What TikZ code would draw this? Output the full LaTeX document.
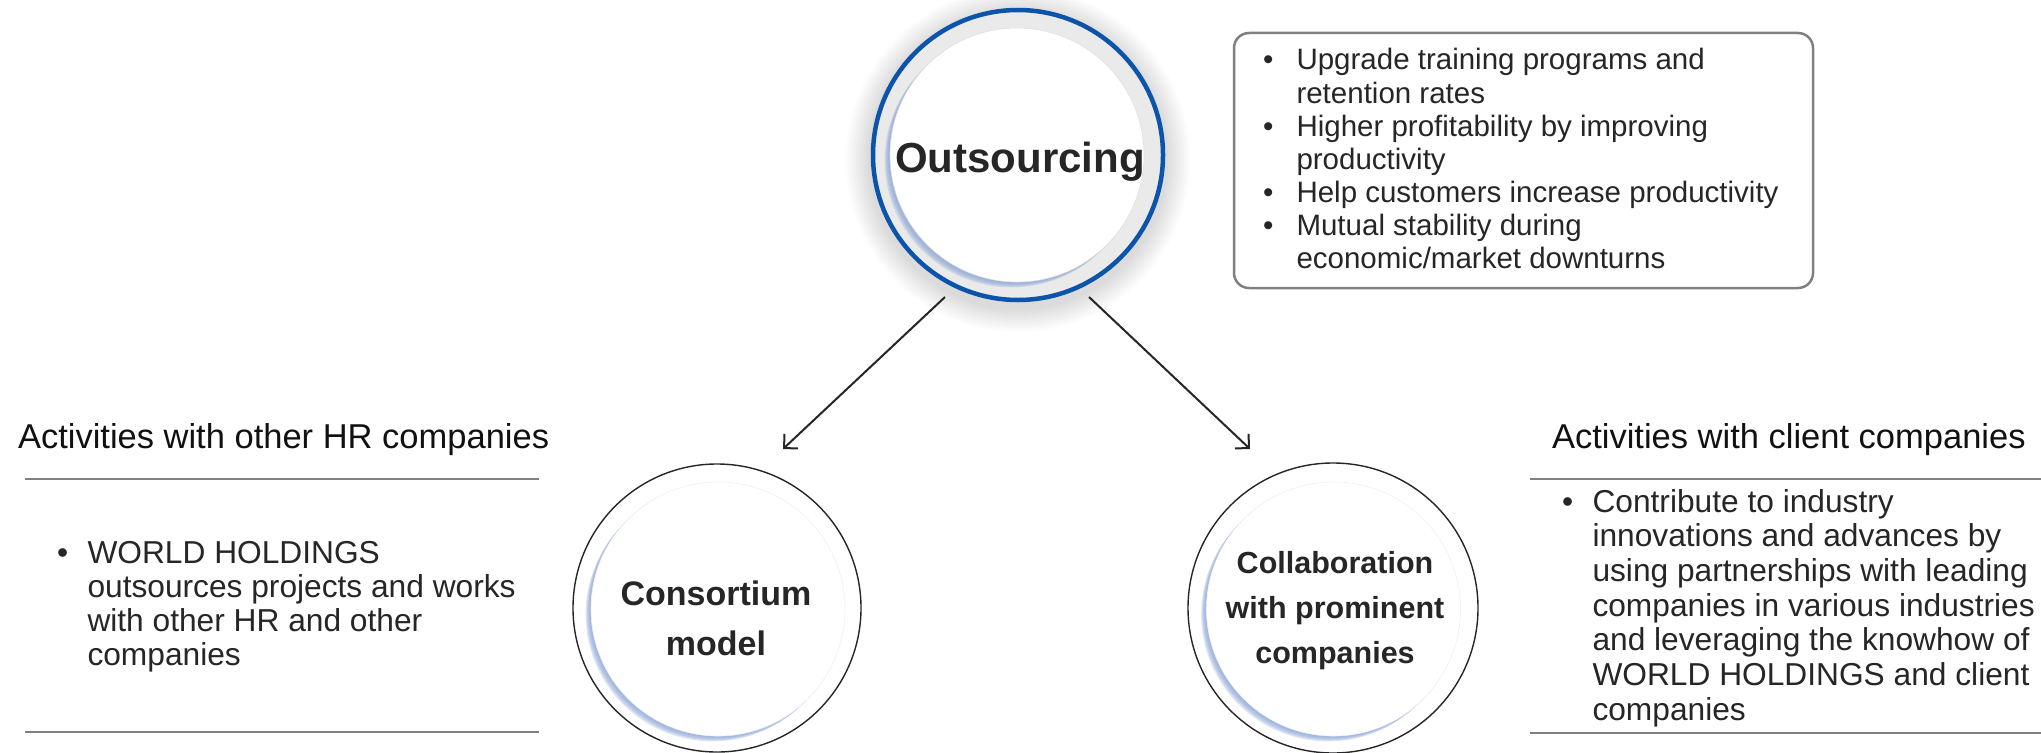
\documentclass[tikz,border=0pt]{standalone}
\usepackage{fontspec}
\setmainfont{Liberation Sans}
\usetikzlibrary{arrows.meta}
\definecolor{txt}{HTML}{262626}
\definecolor{hdtxt}{HTML}{111111}
\definecolor{rulegray}{HTML}{808080}
\definecolor{obblue}{HTML}{0B54AA}
\definecolor{ringgray}{HTML}{EAEAEA}
\definecolor{crescent}{HTML}{8FA9D8}
\begin{document}
\begin{tikzpicture}[x=1pt,y=-1pt,
  body/.style={font=\fontsize{31.7}{34.7}\selectfont, text=txt, anchor=base west, inner sep=0pt, outer sep=0pt},
  boxtxt/.style={font=\fontsize{29.5}{33}\selectfont, text=txt, anchor=base west, inner sep=0pt, outer sep=0pt},
  head/.style={font=\fontsize{34.5}{40}\selectfont, text=hdtxt, anchor=base west, inner sep=0pt, outer sep=0pt},
  ctitle/.style={text=txt, anchor=base, inner sep=0pt, outer sep=0pt},
  rulestyle/.style={draw=rulegray, line width=2.5pt},
  arr/.style={draw=txt, line width=2pt, -{Straight Barb[length=10pt,width=20pt,line width=2pt]}},
  bigcirc/.style={circle, inner sep=0pt, outer sep=0pt},
]
\useasboundingbox (0,0) rectangle (2041,752);
\fill[white] (0,0) rectangle (2041,752);

% ---------- top circle ----------
\foreach \k in {0,...,11} \fill[black,opacity=0.011] (1018,160) circle ({148+24-2*\k});
\fill[ringgray] (1018,155) circle (146);
\foreach \k in {1,...,6} \fill[crescent,opacity=0.26] ({1017-0.9*\k},{155+0.9*\k}) circle (127);
\fill[white] (1017,155) circle (127);
\draw[black!12, line width=0.6pt] (1017,155) circle (127);
\node[bigcirc, draw=obblue, line width=4.5pt, minimum size=290pt] (outs) at (1018,155) {};
\node[ctitle, font=\fontsize{42}{48}\selectfont\bfseries] (outst) at (1020,172) {Outsourcing};

% ---------- bottom-left circle ----------
\node[bigcirc, draw=txt, line width=1.4pt, fill=white, minimum size=288pt] (cons) at (717,608) {};
\foreach \k in {1,...,6} \fill[crescent,opacity=0.26] ({718-0.9*\k},{609+0.9*\k}) circle (127);
\fill[white] (718,609) circle (127);
\draw[black!6, line width=0.6pt] (718,609) circle (127);
\node[ctitle, font=\fontsize{34}{50}\selectfont\bfseries] (cons1) at (716,605) {Consortium};
\node[ctitle, font=\fontsize{34}{50}\selectfont\bfseries] (cons2) at (716,655) {model};

% ---------- bottom-right circle ----------
\node[bigcirc, draw=txt, line width=1.4pt, fill=white, minimum size=290pt] (coll) at (1333,608) {};
\foreach \k in {1,...,6} \fill[crescent,opacity=0.26] ({1333.5-0.9*\k},{609+0.9*\k}) circle (127);
\fill[white] (1333.5,609) circle (127);
\draw[black!6, line width=0.6pt] (1333.5,609) circle (127);
\node[ctitle, font=\fontsize{30.5}{45}\selectfont\bfseries] (coll1) at (1335,573) {Collaboration};
\node[ctitle, font=\fontsize{30.5}{45}\selectfont\bfseries] (coll2) at (1335,618) {with prominent};
\node[ctitle, font=\fontsize{30.5}{45}\selectfont\bfseries] (coll3) at (1335,663) {companies};

% ---------- arrows ----------
\coordinate (aLs) at (945,297);
\coordinate (aLe) at (783,449);
\coordinate (aRs) at (1089,297);
\coordinate (aRe) at (1250,449);
\draw[arr] (aLs) -- (aLe);
\draw[arr] (aRs) -- (aRe);

% ---------- top-right box ----------
\node[draw=rulegray, line width=2.5pt, rounded corners=15pt, minimum width=579pt, minimum height=255pt, inner sep=0pt] (box) at (1523.5,160.5) {};
\foreach \t [count=\i from 0] in {Upgrade training programs and, retention rates, Higher profitability by improving, productivity, Help customers increase productivity, Mutual stability during, economic/market downturns}
  \node[boxtxt] (bx\i) at (1296.5,{70+33*\i}) {\t};
\foreach \i in {0,2,4,5}
  \node[boxtxt] (bxb\i) at (1263,{70+33*\i}) {•};

% ---------- left block ----------
\node[head] (lhead) at (18,448) {Activities with other HR companies};
\draw[rulestyle] (25,479) -- (539,479);
\draw[rulestyle] (25,732) -- (539,732);
\node[body] (lbul) at (57,563) {•};
\foreach \t [count=\i from 0] in {WORLD HOLDINGS, outsources projects and works, with other HR and other, companies}
  \node[body] (lt\i) at (87.5,{563+34*\i}) {\t};

% ---------- right block ----------
\node[head] (rhead) at (1552,448) {Activities with client companies};
\draw[rulestyle] (1530,479) -- (2041,479);
\draw[rulestyle] (1530,733) -- (2041,733);
\node[body] (rbul) at (1562,512) {•};
\foreach \t [count=\i from 0] in {Contribute to industry, innovations and advances by, using partnerships with leading, companies in various industries, and leveraging the knowhow of, WORLD HOLDINGS and client, companies}
  \node[body] (rt\i) at (1592.5,{512+34.7*\i}) {\t};
\end{tikzpicture}
\end{document}
